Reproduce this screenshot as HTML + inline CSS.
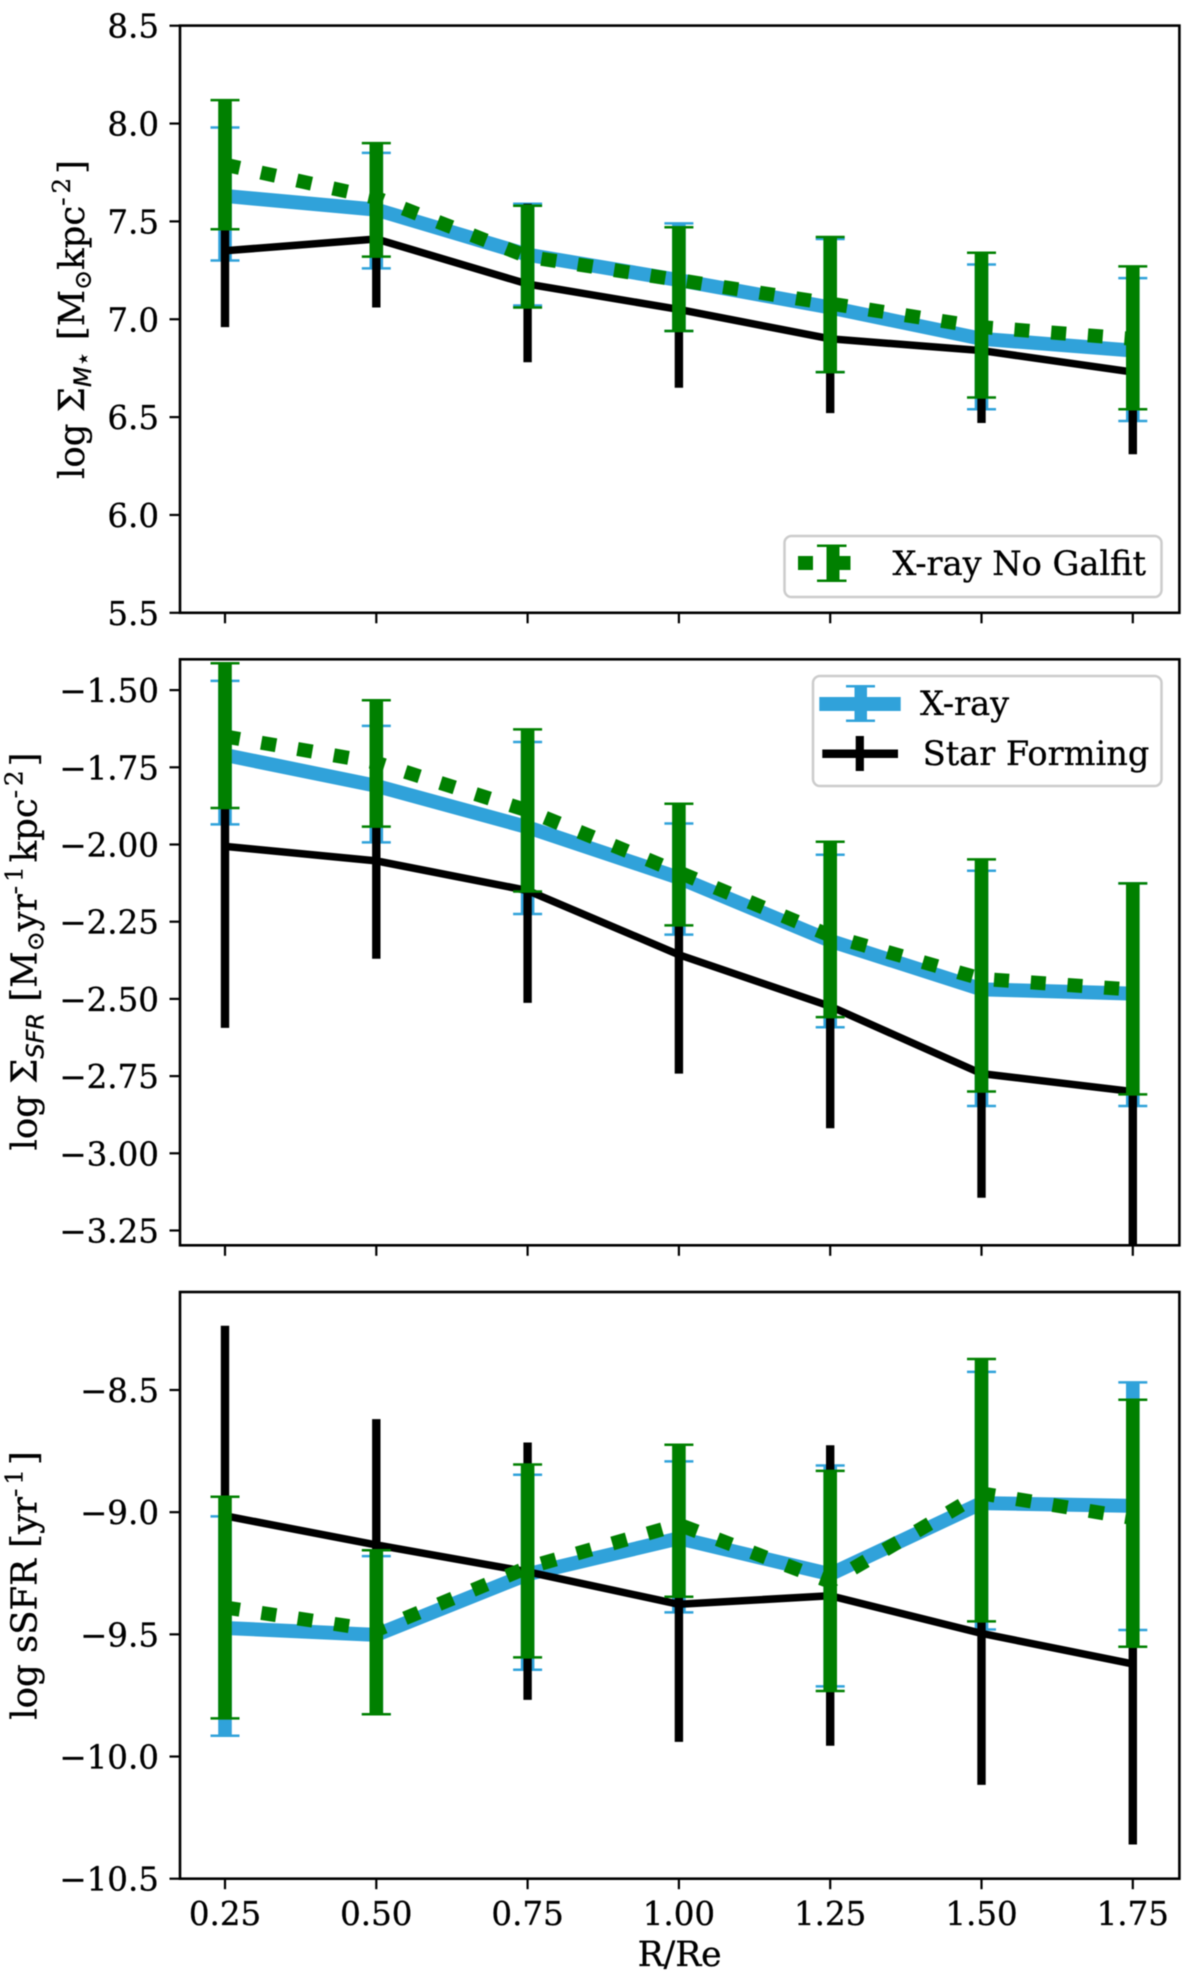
<!DOCTYPE html>
<html lang="en">
<head>
<meta charset="utf-8">
<title>Radial profiles of X-ray and star-forming galaxies</title>
<style>
html,body{margin:0;padding:0;background:#fff;width:1200px;height:1984px;overflow:hidden}
svg{display:block;filter:blur(.45px)}
text{font-family:"DejaVu Serif","Liberation Serif",serif;fill:#000;stroke:#000;stroke-width:.3px}
.sub{font-family:"DejaVu Sans","Liberation Sans",sans-serif;font-style:italic}
.sup{letter-spacing:4px}
</style>
</head>
<body>
<svg id="chart" xmlns="http://www.w3.org/2000/svg" width="1200" height="1984" viewBox="0 0 1200 1984">
  <rect x="0" y="0" width="1200" height="1984" fill="#fff"/>
  <g id="panels"></g>

  <text transform="translate(84,319.5) rotate(-90)" text-anchor="middle" font-size="35.5">log Σ<tspan class="sub" font-size="24" dy="7">M</tspan><tspan font-size="24">⋆</tspan><tspan dy="-7" xml:space="preserve"> [M</tspan><tspan font-size="24" dy="7">⊙</tspan><tspan dy="-7">kpc</tspan><tspan class="sup" font-size="24.5" dy="-14">-2</tspan><tspan dy="14">]</tspan></text>
  <text transform="translate(36.5,951.5) rotate(-90)" text-anchor="middle" font-size="35.5">log Σ<tspan class="sub" font-size="24" dy="7">SFR</tspan><tspan dy="-7" xml:space="preserve"> [M</tspan><tspan font-size="24" dy="7">⊙</tspan><tspan dy="-7">yr</tspan><tspan class="sup" font-size="24.5" dy="-14">-1</tspan><tspan dy="14">kpc</tspan><tspan class="sup" font-size="24.5" dy="-14">-2</tspan><tspan dy="14">]</tspan></text>
  <text transform="translate(36.5,1585.5) rotate(-90)" text-anchor="middle" font-size="35.5">log sSFR [yr<tspan class="sup" font-size="24.5" dy="-14">-1</tspan><tspan dy="14">]</tspan></text>
  <text x="679.6" y="1966" text-anchor="middle" font-size="34.5">R/Re</text>

  <g>
    <rect x="784.5" y="536" width="377" height="61" rx="7" fill="#fff" stroke="#ccc" stroke-width="2.5"/>
    <g fill="#008000">
      <rect x="798" y="556" width="15" height="14"/>
      <rect x="833" y="556" width="17.5" height="14"/>
      <rect x="826.5" y="545" width="13" height="36"/>
      <rect x="817" y="544.5" width="29.5" height="2.5"/>
      <rect x="817" y="579.5" width="29.5" height="2.5"/>
    </g>
    <text x="892.5" y="575" font-size="33.6">X-ray No Galfit</text>
  </g>

  <g>
    <rect x="813" y="676" width="348.5" height="110" rx="7" fill="#fff" stroke="#ccc" stroke-width="2.5"/>
    <g fill="#30a2da">
      <rect x="819.3" y="697" width="81.4" height="14"/>
      <rect x="854.5" y="686" width="12.5" height="35"/>
      <rect x="846" y="685" width="29" height="2.5"/>
      <rect x="846" y="719.5" width="29" height="2.5"/>
    </g>
    <text x="920" y="715" font-size="33.6">X-ray</text>
    <g fill="#000">
      <rect x="822.3" y="749.5" width="75.7" height="8.5"/>
      <rect x="855.7" y="736" width="8.2" height="35"/>
    </g>
    <text x="922.7" y="765" font-size="33.6">Star Forming</text>
  </g>
</svg>

<script>
// Shared x-axis data
const radii = [0.25, 0.5, 0.75, 1.0, 1.25, 1.5, 1.75];
const xTickLabels = ['0.25', '0.50', '0.75', '1.00', '1.25', '1.50', '1.75'];

// Panel 1: log surface stellar mass
const massTicks = [5.5, 6.0, 6.5, 7.0, 7.5, 8.0, 8.5];
const massTickLabels = ['5.5', '6.0', '6.5', '7.0', '7.5', '8.0', '8.5'];
const massStar = [7.35, 7.41, 7.18, 7.05, 6.90, 6.84, 6.73];
const massStarLow = [6.96, 7.06, 6.78, 6.65, 6.52, 6.47, 6.31];
const massStarHigh = [7.74, 7.76, 7.59, 7.45, 7.28, 7.20, 7.14];
const massXray = [7.63, 7.56, 7.33, 7.20, 7.06, 6.90, 6.84];
const massXrayLow = [7.30, 7.26, 7.07, 6.94, 6.73, 6.54, 6.48];
const massXrayHigh = [7.98, 7.85, 7.59, 7.49, 7.41, 7.28, 7.21];
const massGalfit = [7.79, 7.62, 7.32, 7.20, 7.08, 6.96, 6.90];
const massGalfitLow = [7.46, 7.32, 7.06, 6.94, 6.73, 6.60, 6.54];
const massGalfitHigh = [8.12, 7.90, 7.58, 7.47, 7.42, 7.34, 7.27];

// Panel 2: log SFR surface density
const sfrTicks = [-3.25, -3.0, -2.75, -2.5, -2.25, -2.0, -1.75, -1.5];
const sfrTickLabels = ['−3.25', '−3.00', '−2.75', '−2.50', '−2.25', '−2.00', '−1.75', '−1.50'];
const sfrStar = [-2.006, -2.053, -2.149, -2.357, -2.524, -2.742, -2.80];
const sfrStarLow = [-2.594, -2.37, -2.513, -2.742, -2.919, -3.144, -3.31];
const sfrStarHigh = [-1.42, -1.74, -1.79, -1.97, -2.13, -2.34, -2.29];
const sfrXray = [-1.71, -1.81, -1.944, -2.108, -2.312, -2.469, -2.483];
const sfrXrayLow = [-1.935, -1.993, -2.225, -2.292, -2.592, -2.847, -2.847];
const sfrXrayHigh = [-1.47, -1.616, -1.668, -1.932, -2.033, -2.085, -2.126];
const sfrGalfit = [-1.65, -1.735, -1.89, -2.09, -2.295, -2.435, -2.47];
const sfrGalfitLow = [-1.882, -1.942, -2.152, -2.262, -2.559, -2.80, -2.809];
const sfrGalfitHigh = [-1.413, -1.533, -1.627, -1.868, -1.991, -2.048, -2.126];

// Panel 3: log specific SFR
const ssfrTicks = [-10.5, -10.0, -9.5, -9.0, -8.5];
const ssfrTickLabels = ['−10.5', '−10.0', '−9.5', '−9.0', '−8.5'];
const ssfrStar = [-9.015, -9.134, -9.244, -9.377, -9.342, -9.496, -9.621];
const ssfrStarLow = [-9.79, -9.65, -9.768, -9.94, -9.956, -10.116, -10.36];
const ssfrStarHigh = [-8.237, -8.619, -8.715, -8.82, -8.726, -8.88, -8.88];
const ssfrXray = [-9.474, -9.502, -9.254, -9.107, -9.254, -8.963, -8.974];
const ssfrXrayLow = [-9.915, -9.827, -9.645, -9.41, -9.713, -9.48, -9.482];
const ssfrXrayHigh = [-9.017, -9.18, -8.847, -8.792, -8.809, -8.426, -8.469];
const ssfrGalfit = [-9.39, -9.483, -9.226, -9.051, -9.285, -8.923, -9.024];
const ssfrGalfitLow = [-9.844, -9.827, -9.594, -9.346, -9.732, -9.447, -9.551];
const ssfrGalfitHigh = [-8.937, -9.156, -8.805, -8.724, -8.831, -8.373, -8.54];

const NS = 'http://www.w3.org/2000/svg';
const LEFT = 180, RIGHT = 1179.4;

function xScale(v) {
  return 225 + (v - 0.25) / 0.25 * 151.3;
}
function makeYScale(v0, p0, v1, p1) {
  return function (v) { return p0 + (v - v0) * (p1 - p0) / (v1 - v0); };
}
function svgEl(tag, parent) {
  const el = document.createElementNS(NS, tag);
  parent.appendChild(el);
  return el;
}
function drawSegment(parent, x1, y1, x2, y2, color, width) {
  const el = svgEl('line', parent);
  el.setAttribute('x1', x1);
  el.setAttribute('y1', y1);
  el.setAttribute('x2', x2);
  el.setAttribute('y2', y2);
  el.setAttribute('stroke', color);
  el.setAttribute('stroke-width', width);
  return el;
}
function drawSeries(parent, key, yScale, center, low, high, style) {
  const group = svgEl('g', parent);
  
  

  const line = svgEl('polyline', group);
  
  
  line.setAttribute('points', radii.map(function (r, i) { return xScale(r) + ',' + yScale(center[i]); }).join(' '));
  line.setAttribute('fill', 'none');
  line.setAttribute('stroke', style.color);
  line.setAttribute('stroke-width', style.lineWidth);
  line.setAttribute('stroke-linejoin', 'round');
  if (style.dash) line.setAttribute('stroke-dasharray', style.dash);

  radii.forEach(function (r, i) {
    const x = xScale(r);
    const bar = drawSegment(group, x, yScale(low[i]), x, yScale(high[i]), style.color, style.barWidth);
    
    
    if (style.cap) {
      [low[i], high[i]].forEach(function (v) {
        const cap = drawSegment(group, x - 14.5, yScale(v), x + 14.5, yScale(v), style.color, 2.5);
        
        
      });
    }
  });
}
function drawPanel(key, top, bottom, yScale, yTicks, yLabels, series, showXLabels) {
  const root = document.getElementById('panels');
  const panel = svgEl('g', root);
  
  

  const clip = svgEl('clipPath', panel);
  clip.setAttribute('id', 'clip-' + key);
  const clipRect = svgEl('rect', clip);
  clipRect.setAttribute('x', LEFT);
  clipRect.setAttribute('y', top);
  clipRect.setAttribute('width', RIGHT - LEFT);
  clipRect.setAttribute('height', bottom - top);

  const plot = svgEl('g', panel);
  
  
  plot.setAttribute('clip-path', 'url(#clip-' + key + ')');
  series.forEach(function (s) {
    drawSeries(plot, key + '-' + s.name, yScale, s.center, s.low, s.high, s.style);
  });

  const frame = svgEl('rect', panel);
  
  
  frame.setAttribute('x', LEFT);
  frame.setAttribute('y', top);
  frame.setAttribute('width', RIGHT - LEFT);
  frame.setAttribute('height', bottom - top);
  frame.setAttribute('fill', 'none');
  frame.setAttribute('stroke', '#000');
  frame.setAttribute('stroke-width', 2.6);

  yTicks.forEach(function (v, i) {
    const y = yScale(v);
    const tick = drawSegment(panel, LEFT - 10.5, y, LEFT, y, '#000', 2.2);
    
    
    const label = svgEl('text', panel);
    
    
    label.setAttribute('x', 159);
    label.setAttribute('y', y + 12);
    label.setAttribute('text-anchor', 'end');
    label.setAttribute('font-size', 32.5);
    label.textContent = yLabels[i];
  });

  radii.forEach(function (r, i) {
    const x = xScale(r);
    const tick = drawSegment(panel, x, bottom, x, bottom + 10.5, '#000', 2.2);
    
    
    if (showXLabels) {
      const label = svgEl('text', panel);
      
      
      label.setAttribute('x', x);
      label.setAttribute('y', 1925);
      label.setAttribute('text-anchor', 'middle');
      label.setAttribute('font-size', 32.5);
      label.textContent = xTickLabels[i];
    }
  });
}

const starStyle = { color: '#000', lineWidth: 7.5, barWidth: 8.4, cap: false };
const xrayStyle = { color: '#30a2da', lineWidth: 14, barWidth: 13.6, cap: true };
const galfitStyle = { color: '#008000', lineWidth: 14, barWidth: 13.6, cap: true, dash: '15 21.8' };

drawPanel('stellar-mass', 25.6, 612.8, makeYScale(5.5, 612.8, 8.5, 25.7), massTicks, massTickLabels, [
  { name: 'xray', center: massXray, low: massXrayLow, high: massXrayHigh, style: xrayStyle },
  { name: 'star-forming', center: massStar, low: massStarLow, high: massStarHigh, style: starStyle },
  { name: 'xray-no-galfit', center: massGalfit, low: massGalfitLow, high: massGalfitHigh, style: galfitStyle }
], false);
drawPanel('sfr-density', 659.3, 1245.3, makeYScale(-3.25, 1230.5, -1.5, 690.1), sfrTicks, sfrTickLabels, [
  { name: 'xray', center: sfrXray, low: sfrXrayLow, high: sfrXrayHigh, style: xrayStyle },
  { name: 'star-forming', center: sfrStar, low: sfrStarLow, high: sfrStarHigh, style: starStyle },
  { name: 'xray-no-galfit', center: sfrGalfit, low: sfrGalfitLow, high: sfrGalfitHigh, style: galfitStyle }
], false);
drawPanel('ssfr', 1292, 1878.7, makeYScale(-10.5, 1878.7, -8.5, 1390), ssfrTicks, ssfrTickLabels, [
  { name: 'xray', center: ssfrXray, low: ssfrXrayLow, high: ssfrXrayHigh, style: xrayStyle },
  { name: 'star-forming', center: ssfrStar, low: ssfrStarLow, high: ssfrStarHigh, style: starStyle },
  { name: 'xray-no-galfit', center: ssfrGalfit, low: ssfrGalfitLow, high: ssfrGalfitHigh, style: galfitStyle }
], true);
</script>
</body>
</html>
